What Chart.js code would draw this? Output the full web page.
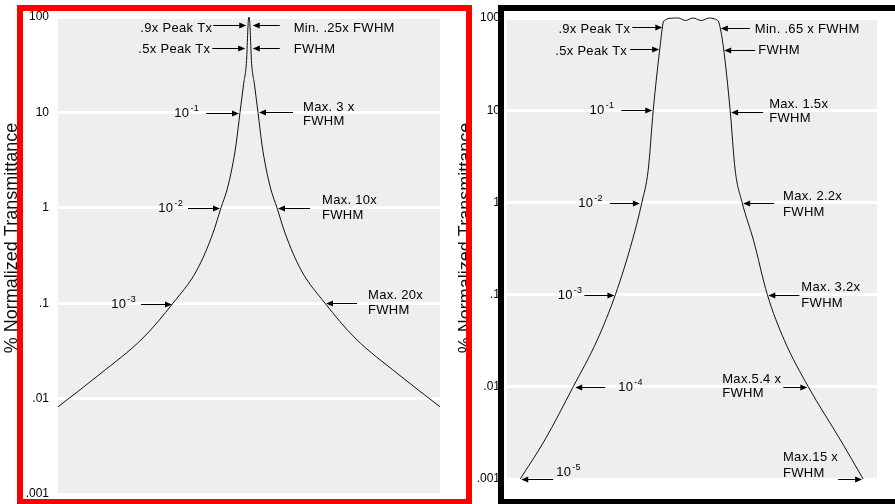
<!DOCTYPE html>
<html lang="en">
<head>
<meta charset="UTF-8">
<meta name="viewport" content="width=device-width, initial-scale=1.0">
<title>Bandpass filter transmittance</title>
<script src="https://cdn.jsdelivr.net/npm/chart.js"></script>
<style>
  body { margin: 0; background: #fff; width: 895px; height: 504px; overflow: hidden; position: relative; }
  canvas { position: absolute; top: 0; }
  #leftChart { left: 0; }
  #rightChart { left: 445px; }
  .frame { position: absolute; box-sizing: border-box; }
  #redFrame { left: 17px; top: 5px; width: 455px; height: 500px; border: 6px solid #ff0000; }
  #blackFrame { left: 498px; top: 5px; width: 420px; height: 500px; border: 6px solid #000; }
</style>
</head>
<body>
  <canvas id="leftChart" width="480" height="504"></canvas>
  <canvas id="rightChart" width="450" height="504"></canvas>
  <div class="frame" id="redFrame"></div>
  <div class="frame" id="blackFrame"></div>

<script>
// y axis, % normalized transmittance (log)
const yTicks = [0.001, 0.01, 0.1, 1, 10, 100]
const yTickLabels = ['.001', '.01', '.1', '1', '10', '100']
const yTitle = '% Normalized Transmittance'

// left filter: offset from centre in FWHM units, transmittance in %
const leftOffsets = [-31.83, -24.83, -17.67, -12.67, -8.67, -6, -4.67, -3.67, -2.83, -2.17, -1.5, -0.92, -0.37, -0.3, -0.12, 0,
                     0.12, 0.3, 0.37, 0.92, 1.5, 2.17, 2.83, 3.67, 4.67, 6, 8.67, 12.67, 17.67, 24.83, 31.83]
const leftValues = [0.0082, 0.0181, 0.0432, 0.1, 0.223, 0.544, 1, 1.54, 2.61, 4.55, 10, 19.4, 38, 50, 90, 100,
                    90, 50, 38, 19.4, 10, 4.55, 2.61, 1.54, 1, 0.544, 0.223, 0.1, 0.0432, 0.0181, 0.0082]

// right filter (square top)
const rightOffsets = [-2.72, -2.33, -1.88, -1.5, -1.21, -0.94, -0.79, -0.69, -0.61, -0.5, -0.45, -0.42, -0.36,
                      -0.21, -0.1, 0.02, 0.15, 0.28, 0.36, 0.4, 0.43, 0.5, 0.61, 0.69, 0.8, 0.98, 1.2, 1.47, 1.85, 2.36, 2.72]
const rightValues = [0.001, 0.00265, 0.01, 0.032, 0.1, 0.39, 1, 2.24, 10, 50, 90, 95, 99,
                     100, 94, 100, 94, 100, 98, 95, 90, 50, 10, 2.24, 1, 0.39, 0.1, 0.032, 0.01, 0.00265, 0.001]

// callouts: text and the level they point at
const leftNoteText = ['.9x Peak Tx', '.5x Peak Tx', '10^-1', '10^-2', '10^-3',
                      'Min. .25x FWHM', 'FWHM', 'Max. 3 x\nFWHM', 'Max. 10x\nFWHM', 'Max. 20x\nFWHM']
const leftNoteLevel = [90, 50, 10, 1, 0.1, 90, 50, 10, 1, 0.1]

const rightNoteText = ['.9x Peak Tx', '.5x Peak Tx', '10^-1', '10^-2', '10^-3', '10^-4', '10^-5',
                       'Min. .65 x FWHM', 'FWHM', 'Max. 1.5x\nFWHM', 'Max. 2.2x\nFWHM', 'Max. 3.2x\nFWHM',
                       'Max.5.4 x\nFWHM', 'Max.15 x\nFWHM']
const rightNoteLevel = [90, 50, 10, 1, 0.1, 0.01, 0.001, 90, 50, 10, 1, 0.1, 0.01, 0.001]

// callout layout: branch of curve, side of text, arrow length, gaps, offsets
const leftNoteLayout = [
  {branch: -1, side: -1, tipGap: 2, len: 33, gap: 1, dy: 3.5, ty: [3]},
  {branch: -1, side: -1, tipGap: 2, len: 33, gap: 2, dy: 2.3, ty: [1]},
  {branch: -1, side: -1, tipGap: 1, len: 33, gap: 7, dy: 0.5, ty: [0]},
  {branch: -1, side: -1, tipGap: 1, len: 32, gap: 5, dy: 0, ty: [0]},
  {branch: -1, side: -1, tipGap: 1, len: 31, gap: 5, dy: 0.5, ty: [0]},
  {branch: 1, side: 1, tipGap: 3, len: 27, gap: 14, dy: 3.5, ty: [3]},
  {branch: 1, side: 1, tipGap: 2, len: 27, gap: 14, dy: 2.3, ty: [1]},
  {branch: 1, side: 1, tipGap: 1, len: 34, gap: 10, dy: 0, ty: [-5, 9]},
  {branch: 1, side: 1, tipGap: 1, len: 32, gap: 12, dy: 0, ty: [-8, 7]},
  {branch: 1, side: 1, tipGap: 1, len: 31, gap: 11, dy: 0, ty: [-8, 7]}
]
const rightNoteLayout = [
  {branch: -1, side: -1, tipGap: 1, len: 30, gap: 2, dy: 5, ty: [2]},
  {branch: -1, side: -1, tipGap: 1, len: 29, gap: 3, dy: 3, ty: [2]},
  {branch: -1, side: -1, tipGap: 1, len: 31, gap: 7, dy: 0, ty: [0]},
  {branch: -1, side: -1, tipGap: 2, len: 30, gap: 7, dy: 0.5, ty: [0]},
  {branch: -1, side: -1, tipGap: 1, len: 30, gap: 2, dy: 0.5, ty: [0]},
  {branch: -1, side: 1, tipGap: 2, len: 30, gap: 13, dy: 0, ty: [0]},
  {branch: -1, side: 1, tipGap: 1, len: 32, gap: 3, dy: 0, ty: [-7]},
  {branch: 1, side: 1, tipGap: 2, len: 29, gap: 5, dy: 6, ty: [1]},
  {branch: 1, side: 1, tipGap: 1, len: 31, gap: 3, dy: 4, ty: [0]},
  {branch: 1, side: 1, tipGap: 1, len: 32, gap: 6, dy: 2, ty: [-8, 6]},
  {branch: 1, side: 1, tipGap: 1, len: 31, gap: 9, dy: 0.5, ty: [-7, 9]},
  {branch: 1, side: 1, tipGap: 1, len: 31, gap: 2, dy: 0.5, ty: [-8, 8]},
  {branch: 1, side: -1, tipGap: 1, len: 24, gap: 2, dy: 0, ty: [-8, 6]},
  {branch: 1, side: -1, tipGap: 1, len: 24, gap: 0, dy: 0, ty: [-22, -6]}
]

const family = '"Liberation Sans", Arial, Helvetica, sans-serif'
const noteFont = '13px ' + family
const supFont = '9px ' + family

// grey plot background
const plotBg = {
  id: 'plotBg',
  beforeDraw(chart) {
    const a = chart.chartArea
    chart.ctx.save()
    chart.ctx.fillStyle = '#eeeeee'
    chart.ctx.fillRect(a.left, a.top, a.right - a.left, a.bottom - a.top)
    chart.ctx.restore()
  }
}

// rotated y title, placed a bit above the axis centre like the original
const sideTitle = {
  id: 'sideTitle',
  afterDraw(chart, args, opts) {
    const ctx = chart.ctx
    ctx.save()
    ctx.translate(opts.x, opts.y)
    ctx.rotate(-Math.PI / 2)
    ctx.font = '18px ' + family
    ctx.fillStyle = '#111'
    ctx.textAlign = 'center'
    ctx.textBaseline = 'middle'
    ctx.fillText(yTitle, 0, 0)
    ctx.restore()
  }
}

function textWidth(ctx, line) {
  const parts = line.split('^')
  ctx.font = noteFont
  let w = ctx.measureText(parts[0]).width
  if (parts[1]) {
    ctx.font = supFont
    w += ctx.measureText(parts[1]).width + 1
  }
  return w
}

function drawLine(ctx, line, x, y) {
  const parts = line.split('^')
  ctx.font = noteFont
  ctx.fillText(parts[0], x, y)
  if (parts[1]) {
    const w = ctx.measureText(parts[0]).width
    ctx.font = supFont
    ctx.fillText(parts[1], x + w + 1, y - 5)
  }
}

// arrows + labels pointing at the curve
const callouts = {
  id: 'callouts',
  afterDatasetsDraw(chart, args, opts) {
    const ctx = chart.ctx
    const xs = chart.scales.x
    const ys = chart.scales.y
    const pts = chart.data.datasets[0].data
    ctx.save()
    ctx.fillStyle = '#000'
    ctx.strokeStyle = '#000'
    ctx.lineWidth = 1
    ctx.textAlign = 'left'
    ctx.textBaseline = 'middle'
    if ('letterSpacing' in ctx) ctx.letterSpacing = '0.3px'
    opts.text.forEach((txt, i) => {
      const lay = opts.layout[i]
      const p = pts.find(q => q.y === opts.level[i] && Math.sign(q.x) === lay.branch)
      const y = Math.round(ys.getPixelForValue(opts.level[i]) + lay.dy) + 0.5
      const tip = xs.getPixelForValue(p.x) + lay.side * lay.tipGap
      const tail = tip + lay.side * lay.len
      ctx.beginPath()
      ctx.moveTo(tip + lay.side * 6, y)
      ctx.lineTo(tail, y)
      ctx.stroke()
      ctx.beginPath()
      ctx.moveTo(tip, y)
      ctx.lineTo(tip + lay.side * 7, y - 3)
      ctx.lineTo(tip + lay.side * 7, y + 3)
      ctx.closePath()
      ctx.fill()
      const lines = txt.split('\n')
      let x
      if (lay.side > 0) {
        x = tail + lay.gap
      } else {
        const maxW = Math.max(...lines.map(l => textWidth(ctx, l)))
        x = tail - lay.gap - maxW
      }
      lines.forEach((l, k) => drawLine(ctx, l, x, y + lay.ty[k]))
    })
    ctx.restore()
  }
}

function makeChart(id, offsets, values, xMin, xMax, box, notes, titlePos) {
  const ctx = document.getElementById(id).getContext('2d')
  return new Chart(ctx, {
    type: 'line',
    data: {
      datasets: [{
        data: offsets.map((x, i) => ({x: x, y: values[i]})),
        borderColor: '#111',
        borderWidth: 1,
        pointRadius: 0,
        cubicInterpolationMode: 'monotone',
        fill: false,
        clip: false
      }]
    },
    options: {
      responsive: false,
      animation: false,
      layout: { padding: box.padding },
      plugins: {
        legend: { display: false },
        tooltip: { enabled: false },
        callouts: notes,
        sideTitle: titlePos
      },
      scales: {
        x: { type: 'linear', min: xMin, max: xMax, display: false },
        y: {
          type: 'logarithmic',
          min: 0.001,
          max: 100,
          afterBuildTicks: s => { s.ticks = yTicks.map(v => ({value: v})) },
          afterFit: s => {
            // fixed axis box, the layout padding alone decides the plot height
            s.width = box.axisWidth
            s.paddingTop = 0
            s.paddingBottom = 0
          },
          grid: { color: '#ffffff', lineWidth: 3, drawTicks: false },
          border: { display: false },
          ticks: {
            autoSkip: false,
            padding: box.tickPad,
            color: '#000',
            font: { family: family, size: 12 },
            callback: v => {
              const i = yTicks.findIndex(t => Math.abs(t - v) < t * 1e-6)
              return i >= 0 ? yTickLabels[i] : ''
            }
          }
        }
      }
    },
    plugins: [plotBg, callouts, sideTitle]
  })
}

makeChart('leftChart', leftOffsets, leftValues, -31.83, 31.83,
  { padding: {top: 17, bottom: 10, left: 0, right: 40}, axisWidth: 58, tickPad: 9 },
  { text: leftNoteText, level: leftNoteLevel, layout: leftNoteLayout },
  { x: 12, y: 238 })

makeChart('rightChart', rightOffsets, rightValues, -2.93, 2.94,
  { padding: {top: 18, bottom: 25, left: 0, right: 18}, axisWidth: 62, tickPad: 7 },
  { text: rightNoteText, level: rightNoteLevel, layout: rightNoteLayout },
  { x: 21, y: 238 })
</script>
</body>
</html>
